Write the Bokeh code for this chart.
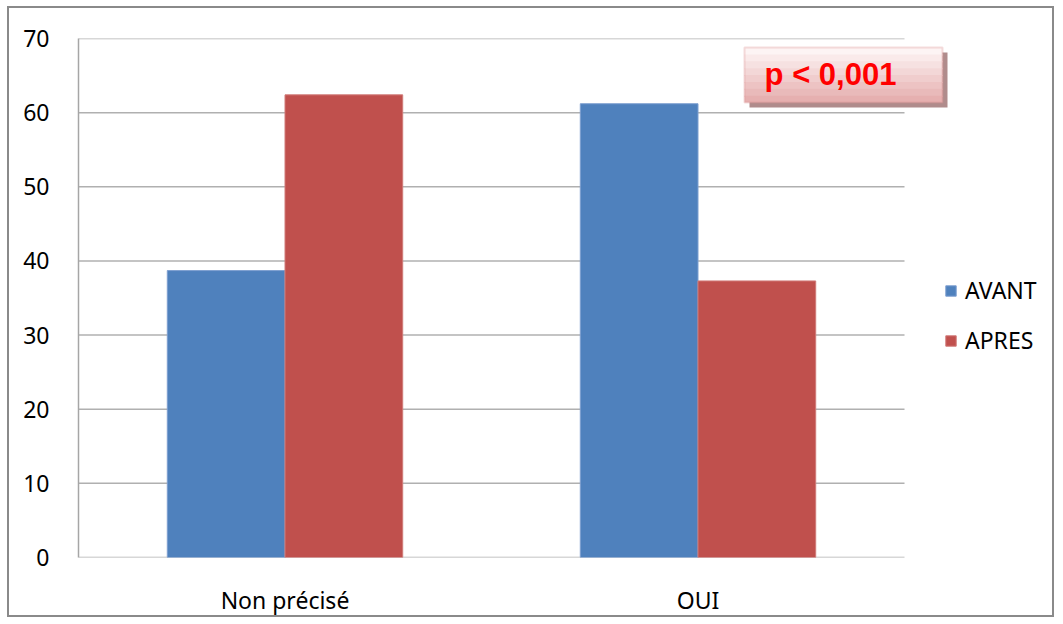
from bokeh.plotting import figure
from bokeh.models import ColumnDataSource, FixedTicker, Legend, LegendItem, Label, BoxAnnotation, Range1d
from bokeh.embed import file_html
from bokeh.resources import INLINE

categories = ["Non précisé", "OUI"]
avant = [38.7, 61.2]
apres = [62.4, 37.3]
series_names = ["AVANT", "APRES"]
y_ticks = [0, 10, 20, 30, 40, 50, 60, 70]
p_text = "p < 0,001"

n_cat = len(categories)
centers = [i + 0.5 for i in range(n_cat)]
bar_w = 0.285

src = ColumnDataSource(dict(x1=[c - bar_w / 2 for c in centers], x2=[c + bar_w / 2 for c in centers],
                            avant=avant, apres=apres))

# frame extends right beyond the category area so the p-box and legend are not clipped
p = figure(x_range=Range1d(0, n_cat * 973 / 826), y_range=Range1d(0, 70), width=1047, height=611,
           output_backend="svg", toolbar_location=None,
           min_border_left=69, min_border_right=5, min_border_top=30, min_border_bottom=62,
           styles={"border": "2px solid #8a8a8a", "margin": "6px 0 0 7px"})
p.outline_line_color = None
p.background_fill_color = "white"
p.border_fill_color = "white"

# gridlines only across the category area
p.xgrid.grid_line_color = None
p.ygrid.grid_line_color = None
p.segment(x0=[0] * len(y_ticks), x1=[n_cat] * len(y_ticks), y0=y_ticks, y1=y_ticks,
          line_color="#b0b0b0", line_width=1.5)

r1 = p.vbar(x="x1", top="avant", width=bar_w, source=src,
            fill_color="#4f81bd", line_color="#7d9fd0", line_width=1)
r2 = p.vbar(x="x2", top="apres", width=bar_w, source=src,
            fill_color="#c0504d", line_color="#d07a78", line_width=1)

font = "Noto Sans"
p.yaxis.ticker = FixedTicker(ticks=y_ticks)
p.yaxis.major_label_text_font = font
p.yaxis.major_label_text_font_size = "23px"
p.yaxis.major_label_text_color = "#000000"
p.yaxis.major_label_standoff = 23
p.yaxis.axis_line_color = "#a6a6a6"
p.yaxis.axis_line_width = 1.5
p.xaxis.ticker = FixedTicker(ticks=centers)
p.xaxis.major_label_overrides = {c: name for c, name in zip(centers, categories)}
p.xaxis.major_label_text_font = font
p.xaxis.major_label_text_font_size = "23px"
p.xaxis.major_label_text_color = "#000000"
p.xaxis.major_label_standoff = 20
p.xaxis.axis_line_color = None
for ax in (p.xaxis, p.yaxis):
    ax.major_tick_line_color = None
    ax.minor_tick_line_color = None

legend = Legend(items=[LegendItem(label=series_names[0], renderers=[r1]),
                       LegendItem(label=series_names[1], renderers=[r2])],
                location=(866, 201), orientation="vertical",
                glyph_width=13, glyph_height=13, label_standoff=8, spacing=18,
                padding=0, margin=0, border_line_color=None, background_fill_alpha=0,
                label_text_font=font, label_text_font_size="23px", label_text_color="#000000")
p.add_layout(legend, "center")

# p-value box (shadow, gradient-like fill, border)
U = dict(left_units="canvas", right_units="canvas", top_units="canvas", bottom_units="canvas")
p.add_layout(BoxAnnotation(left=738, right=936, top=42, bottom=97, fill_color="#b08c8c",
                           fill_alpha=1, line_color=None, **U))
top_c = (253, 244, 244)
bot_c = (230, 176, 176)
nb = 8
for i in range(nb):
    t = i / (nb - 1)
    c = tuple(int(round(top_c[k] + (bot_c[k] - top_c[k]) * t)) for k in range(3))
    hexc = "#%02x%02x%02x" % c
    p.add_layout(BoxAnnotation(left=733, right=931, top=37 + 55 * i / nb,
                               bottom=min(92, 37 + 55 * (i + 1) / nb + 1),
                               fill_color=hexc, fill_alpha=1, line_color=None, **U))
p.add_layout(BoxAnnotation(left=733, right=931, top=37, bottom=92, fill_alpha=0,
                           line_color="#d98f8f", line_width=2, **U))
p.add_layout(Label(x=752, y=483, x_units="screen", y_units="screen", text=p_text,
                   text_align="center", text_baseline="middle",
                   text_font="Liberation Sans", text_font_style="bold", text_font_size="31px",
                   text_color="#ff0000"))

open("out.html", "w").write(file_html(p, INLINE))
